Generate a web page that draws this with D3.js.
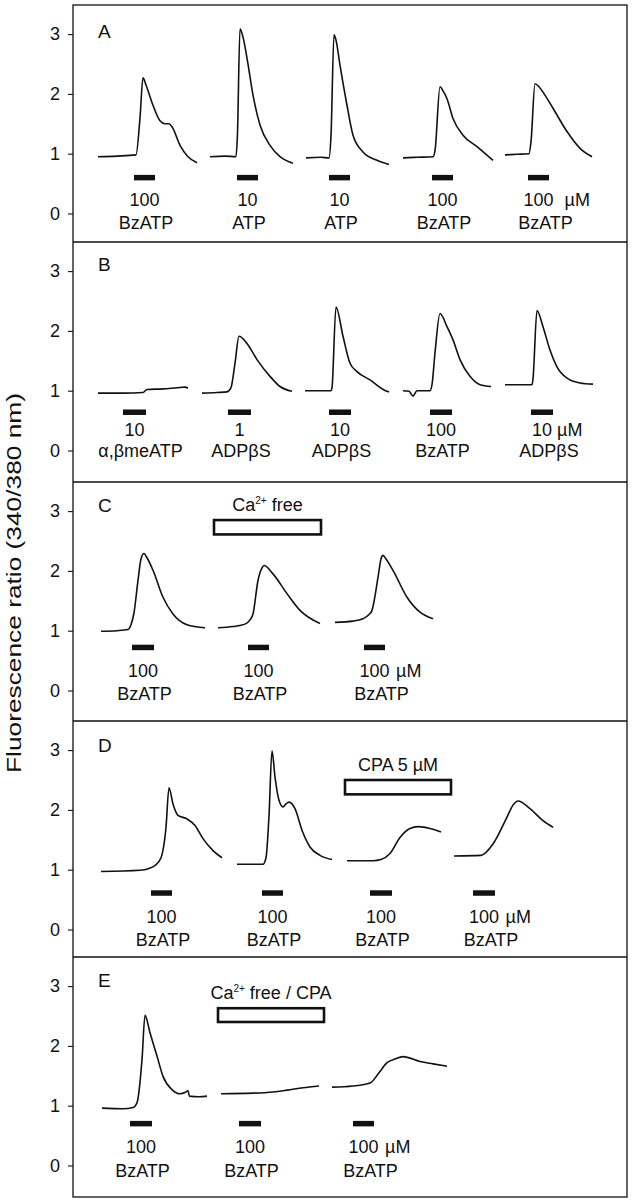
<!DOCTYPE html>
<html><head><meta charset="utf-8">
<script src="https://cdn.jsdelivr.net/npm/d3@7"></script>
<style>body{margin:0;background:#fff}svg{display:block;font-family:"Liberation Sans",Arial,Helvetica,sans-serif}</style>
</head><body><svg id="chart" width="634" height="1200"></svg>
<script>
// ---------- DATA (time in s on each panel's timeline, value = 340/380 ratio) ----------
const yTicks = [0, 1, 2, 3];
const panelIds = ["A", "B", "C", "D", "E"];

const tracesA = [
  [[12.5,0.95],[22,0.96],[31.5,0.98],[33.5,1.6],[35,2.27],[36.5,2.15],[40,1.81],[43.5,1.55],[46,1.5],[48,1.5],[49.5,1.45],[53.5,1.14],[57.5,0.95],[62,0.85]],
  [[68.5,0.95],[76,0.96],[81.5,0.95],[82.2,1.3],[83.5,3.09],[85,2.95],[87,2.6],[90,1.98],[93.5,1.48],[98.5,1.14],[103.5,0.95],[110,0.84]],
  [[116.5,0.93],[124,0.94],[128,0.93],[129,1.3],[130.5,2.99],[131.5,2.9],[133.5,2.48],[137,1.81],[140,1.31],[145,1.03],[152,0.89],[158,0.82]],
  [[165,0.93],[172,0.94],[180,0.95],[181,1.05],[183.5,2.12],[185,2.05],[187,1.92],[190,1.59],[195,1.31],[202,1.12],[210,0.89]],
  [[216,0.98],[222,0.99],[228,1.0],[229,1.2],[231,2.17],[233,2.12],[235,2.03],[240,1.76],[247,1.37],[253.5,1.09],[259.5,0.95]]
];
const tracesB = [
  [[12.5,0.96],[25,0.96],[35,0.97],[37,1.02],[45,1.03],[52,1.05],[56,1.06],[57.5,1.04]],
  [[64.5,0.96],[72,0.97],[77,0.98],[79,1.05],[81,1.46],[83,1.91],[87,1.79],[92,1.52],[98.5,1.24],[103.5,1.07],[109.5,0.99]],
  [[116,1.0],[123,1.0],[129,1.0],[129.5,1.05],[131.5,2.40],[135,1.91],[138.5,1.46],[142,1.32],[148.5,1.18],[157,0.99],[158,0.98]],
  [[165,1.0],[168,0.99],[170,0.91],[172,1.0],[178.5,1.0],[179.5,1.1],[181,1.63],[183.5,2.29],[187,2.07],[190,1.85],[193.5,1.52],[198.5,1.24],[203.5,1.10],[209,1.07]],
  [[216,1.10],[223,1.10],[229.5,1.10],[230,1.2],[232,2.34],[235,2.07],[238.5,1.68],[242,1.40],[247,1.21],[253.5,1.13],[260,1.11]]
];
const tracesC = [
  [[14,0.99],[22,1.0],[27.5,1.02],[29,1.1],[30.5,1.3],[32.5,1.84],[34,2.2],[35.5,2.29],[37,2.22],[40,2.01],[45,1.56],[50,1.28],[57,1.10],[66,1.05]],
  [[72.5,1.05],[80,1.07],[86,1.11],[88.5,1.18],[90,1.28],[92.5,1.84],[94.5,2.05],[95.5,2.09],[100,1.95],[107,1.62],[113.5,1.34],[123.5,1.12]],
  [[131,1.14],[140,1.16],[145,1.20],[148,1.27],[149.5,1.34],[152.5,1.89],[154,2.2],[155,2.26],[156.5,2.2],[160,2.01],[167,1.56],[173.5,1.31],[180,1.20]]
];
const tracesD = [
  [[14,0.97],[33.5,0.99],[38,1.02],[41,1.07],[44,1.2],[46.5,1.71],[48,2.37],[50,2.10],[52.5,1.91],[57,1.85],[61,1.74],[65,1.52],[70,1.32],[74.5,1.20]],
  [[82,1.09],[95,1.09],[96.5,1.2],[98,1.9],[99.5,2.99],[101,2.55],[103,2.16],[105,2.05],[106.5,2.1],[108,2.13],[111,2.02],[114.5,1.66],[118.5,1.38],[123.5,1.24],[129.5,1.17]],
  [[137,1.15],[150,1.15],[154,1.17],[158.5,1.27],[163.5,1.54],[168.5,1.69],[172.5,1.72],[178.5,1.69],[184,1.63]],
  [[190.5,1.23],[204,1.24],[210,1.43],[217,1.88],[220,2.08],[222.5,2.15],[228.5,2.02],[235,1.82],[240,1.71]]
];
const tracesE = [
  [[14.5,0.96],[25,0.95],[30,0.97],[32,1.05],[34.5,1.77],[36,2.51],[38.5,2.22],[42,1.83],[45,1.49],[49.5,1.27],[53.5,1.20],[56,1.22],[57.5,1.25],[58.2,1.16],[63,1.15],[67,1.16]],
  [[74,1.20],[90,1.21],[100,1.23],[107,1.26],[115,1.30],[123,1.33]],
  [[129.5,1.31],[140,1.33],[148.5,1.38],[153,1.55],[157,1.72],[161,1.78],[165,1.82],[173.5,1.74],[180,1.70],[187,1.66]]
];

// agonist application periods [start, end] (s)
const barsA = [[30.5,41],[82,92.5],[128,138.5],[179.5,190],[227.5,238]];
const barsB = [[25,36.5],[77.5,89],[128,139],[178.5,189.5],[229,240]];
const barsC = [[29.5,40.5],[87.5,98],[145.5,156]];
const barsD = [[39,49.5],[94.5,105],[148.5,159.5],[200,211]];
const barsE = [[28.5,39.5],[83,94],[140,150.5]];

// concentrations, agonists, units
const doseA = ["100","10","10","100","100"];
const agonistA = ["BzATP","ATP","ATP","BzATP","BzATP"];
const unitA = ["","","","","µM"];
const doseB = ["10","1","10","100","10"];
const agonistB = ["α,βmeATP","ADPβS","ADPβS","BzATP","ADPβS"];
const unitB = ["","","","","µM"];
const doseC = ["100","100","100"];
const agonistC = ["BzATP","BzATP","BzATP"];
const unitC = ["","","µM"];
const doseD = ["100","100","100","100"];
const agonistD = ["BzATP","BzATP","BzATP","BzATP"];
const unitD = ["","","","µM"];
const doseE = ["100","100","100"];
const agonistE = ["BzATP","BzATP","BzATP"];
const unitE = ["","","µM"];

// condition boxes: time span and label
const condC = {span:[70.5,124], label:["Ca","2+"," free"]};
const condD = {span:[136,189], label:["CPA 5 µM","",""]};
const condE = {span:[72.5,125.5], label:["Ca","2+"," free / CPA"]};

const yTitle = "Fluorescence ratio (340/380 nm)";

// ---------- LAYOUT ----------
const W = 634, H = 1200;
const left = 73, right = 627;
const panelTops = [5, 242, 482, 721, 957, 1197];
const zeroOffset = 208.5, unitPx = 59.8;
const barThick = 5.5;
const layout = [
  {barLevel:0.60, lab1:201, lab2:223.5, unitGap:11, boxLevel:null, letterY:33},
  {barLevel:0.64, lab1:193.5, lab2:214.5, unitGap:5, boxLevel:null, letterY:28.5},
  {barLevel:0.72, lab1:194.7, lab2:218, unitGap:6.5, boxLevel:[2.61,2.85], letterY:30},
  {barLevel:0.61, lab1:202.3, lab2:224.7, unitGap:6.5, boxLevel:[2.26,2.50], letterY:31},
  {barLevel:0.70, lab1:196.3, lab2:219.7, unitGap:6.5, boxLevel:[2.40,2.63], letterY:30}
];
const panelData = [
  {traces:tracesA, bars:barsA, dose:doseA, ag:agonistA, unit:unitA, cond:null},
  {traces:tracesB, bars:barsB, dose:doseB, ag:agonistB, unit:unitB, cond:null},
  {traces:tracesC, bars:barsC, dose:doseC, ag:agonistC, unit:unitC, cond:condC},
  {traces:tracesD, bars:barsD, dose:doseD, ag:agonistD, unit:unitD, cond:condD},
  {traces:tracesE, bars:barsE, dose:doseE, ag:agonistE, unit:unitE, cond:condE}
];

const svg = d3.select("#chart");
svg.append("rect").attr("width", W).attr("height", H).attr("fill", "#fff");

const x = d3.scaleLinear().domain([0, (right-left)/2]).range([left, right]);
const FS = 18;

panelData.forEach((pd, i) => {
  const top = panelTops[i];
  const L = layout[i];
  const y0 = top + zeroOffset;
  const y = d3.scaleLinear().domain([0, 3]).range([y0, y0 - 3*unitPx]);
  const g = svg.append("g");

  // axis
  const ax = g.append("g").attr("transform", `translate(${left},0)`)
    .call(d3.axisLeft(y).tickValues(yTicks).tickSize(5).tickPadding(8).tickFormat(d3.format("d")));
  ax.select(".domain").remove();
  ax.attr("font-size", FS).attr("font-family", null);
  ax.selectAll("line").attr("stroke", "#111").attr("stroke-width", 1.1);
  ax.selectAll("text").attr("fill", "#111");

  // panel letter
  g.append("text").attr("x", 98).attr("y", top + L.letterY).attr("font-size", FS + 1).attr("fill", "#111").text(panelIds[i]);

  // traces
  const line = d3.line().x(d => x(d[0])).y(d => y(d[1])).curve(d3.curveMonotoneX);
  g.selectAll("path.trace").data(pd.traces).join("path").attr("class", "trace")
    .attr("d", line).attr("fill", "none").attr("stroke", "#111")
    .attr("stroke-width", 1.6).attr("stroke-linejoin", "round");

  // agonist bars
  g.selectAll("rect.bar").data(pd.bars).join("rect").attr("class", "bar")
    .attr("x", d => x(d[0])).attr("width", d => x(d[1]) - x(d[0]))
    .attr("y", y(L.barLevel) - barThick/2).attr("height", barThick).attr("fill", "#111");

  // labels
  pd.bars.forEach((b, k) => {
    const cx = (x(b[0]) + x(b[1])) / 2;
    const t1 = g.append("text").attr("x", cx).attr("y", top + L.lab1)
      .attr("text-anchor", "middle").attr("font-size", FS).attr("fill", "#111").text(pd.dose[k]);
    const hasUnit = pd.unit[k] !== "";
    if (hasUnit) {
      const w = t1.node().getComputedTextLength();
      g.append("text").attr("x", cx + w/2 + L.unitGap).attr("y", top + L.lab1)
        .attr("font-size", FS).attr("fill", "#111").text(pd.unit[k]);
    }
    const dx2 = hasUnit ? 7 : (pd.ag[k].length > 6 ? 6 : 1.5);
    g.append("text").attr("x", cx + dx2).attr("y", top + L.lab2)
      .attr("text-anchor", "middle").attr("font-size", FS).attr("fill", "#111").text(pd.ag[k]);
  });

  // condition box
  if (pd.cond) {
    const c = pd.cond;
    const bx0 = x(c.span[0]), bx1 = x(c.span[1]);
    const by0 = y(L.boxLevel[1]), by1 = y(L.boxLevel[0]);
    g.append("rect").attr("x", bx0).attr("y", by0).attr("width", bx1 - bx0).attr("height", by1 - by0)
      .attr("fill", "#fff").attr("stroke", "#111").attr("stroke-width", 2.6);
    const t = g.append("text").attr("x", (bx0 + bx1)/2).attr("y", by0 - 9)
      .attr("text-anchor", "middle").attr("font-size", FS).attr("fill", "#111");
    t.append("tspan").text(c.label[0]);
    if (c.label[1]) {
      t.append("tspan").attr("font-size", 10).attr("dy", -7).text(c.label[1]);
      t.append("tspan").attr("dy", 7).text(c.label[2]);
    }
  }
});

// frame and dividers
svg.append("rect").attr("x", left).attr("y", panelTops[0]).attr("width", right - left)
  .attr("height", panelTops[5] - panelTops[0]).attr("fill", "none").attr("stroke", "#111").attr("stroke-width", 1.3);
svg.selectAll("line.div").data(panelTops.slice(1, 5)).join("line").attr("class", "div")
  .attr("x1", left).attr("x2", right).attr("y1", d => d).attr("y2", d => d)
  .attr("stroke", "#111").attr("stroke-width", 1.3);

// y title
svg.append("text").attr("transform", "translate(21,583) rotate(-90)")
  .attr("text-anchor", "middle").attr("font-size", 20).attr("fill", "#111")
  .attr("textLength", 380).attr("lengthAdjust", "spacingAndGlyphs").text(yTitle);
</script></body></html>
